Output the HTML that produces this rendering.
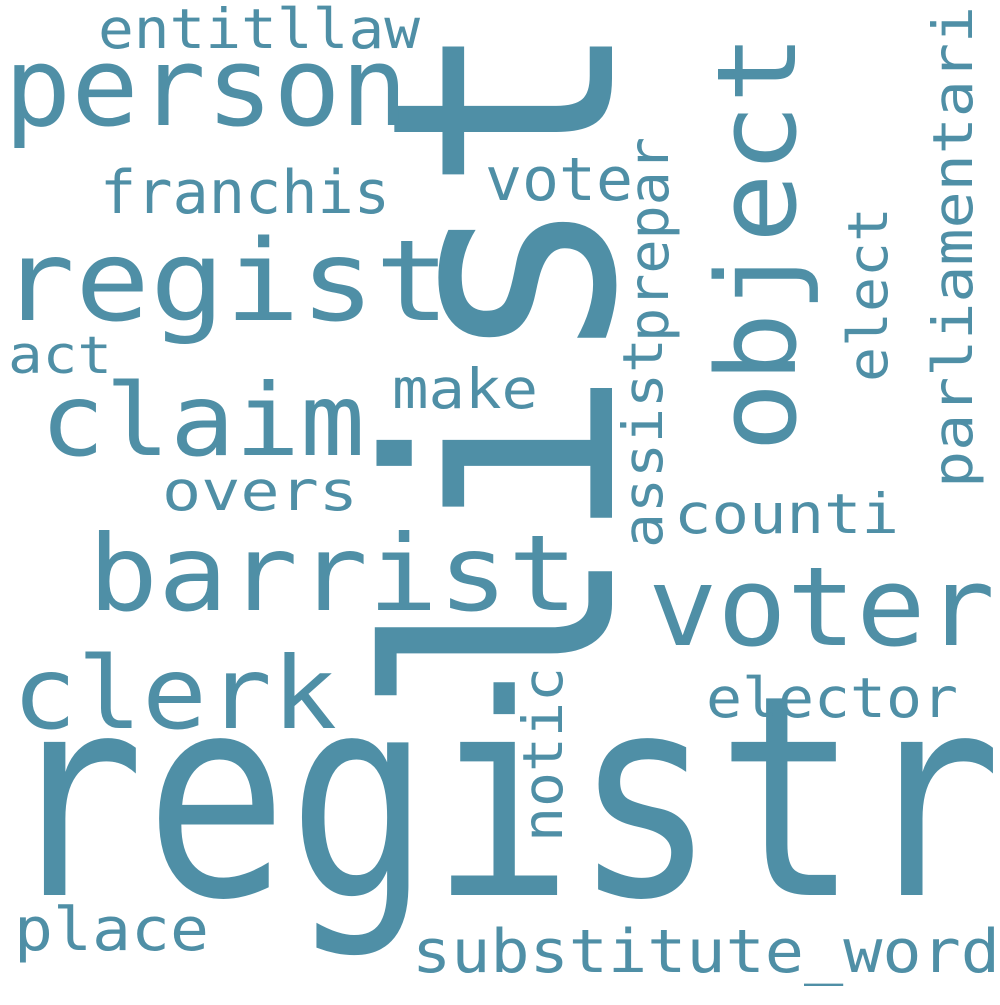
<!DOCTYPE html>
<html><head><meta charset="utf-8"><style>
html,body{margin:0;padding:0;background:#fff}
svg text{font-family:"DejaVu Sans Mono","Liberation Mono",monospace;fill:#4f8fa6}
</style></head><body>
<svg width="1000" height="1000" viewBox="0 0 1000 1000" xmlns="http://www.w3.org/2000/svg">
<rect width="1000" height="1000" fill="#fff"/>
<text x="2" y="895" font-size="280" textLength="1000" lengthAdjust="spacingAndGlyphs">registr</text>
<text transform="translate(612,718) rotate(-90)" font-size="310" textLength="700" lengthAdjust="spacingAndGlyphs">list</text>
<text x="4" y="125" font-size="110" textLength="404" lengthAdjust="spacingAndGlyphs">person</text>
<text x="0" y="320" font-size="112" textLength="450" lengthAdjust="spacingAndGlyphs">regist</text>
<text x="40" y="455" font-size="100" textLength="325" lengthAdjust="spacingAndGlyphs">claim</text>
<text x="88" y="610" font-size="105" textLength="490" lengthAdjust="spacingAndGlyphs">barrist</text>
<text x="12" y="728" font-size="100" textLength="325" lengthAdjust="spacingAndGlyphs">clerk</text>
<text x="648" y="645" font-size="110" textLength="347" lengthAdjust="spacingAndGlyphs">voter</text>
<text transform="translate(795,452) rotate(-90)" font-size="110" textLength="418" lengthAdjust="spacingAndGlyphs">object</text>
<text x="98" y="48" font-size="55" textLength="322" lengthAdjust="spacingAndGlyphs">entitllaw</text>
<text x="100" y="213" font-size="60" textLength="290" lengthAdjust="spacingAndGlyphs">franchis</text>
<text x="485" y="200" font-size="60" textLength="148" lengthAdjust="spacingAndGlyphs">vote</text>
<text x="8" y="373" font-size="52" textLength="104" lengthAdjust="spacingAndGlyphs">act</text>
<text x="392" y="408" font-size="55" textLength="146" lengthAdjust="spacingAndGlyphs">make</text>
<text x="162" y="510" font-size="55" textLength="196" lengthAdjust="spacingAndGlyphs">overs</text>
<text x="674" y="533" font-size="55" textLength="225" lengthAdjust="spacingAndGlyphs">counti</text>
<text x="706" y="717" font-size="55" textLength="252" lengthAdjust="spacingAndGlyphs">elector</text>
<text x="14" y="950" font-size="60" textLength="195" lengthAdjust="spacingAndGlyphs">place</text>
<text x="412" y="972" font-size="60" textLength="588" lengthAdjust="spacingAndGlyphs">substitute_word</text>
<text transform="translate(668,342) rotate(-90)" font-size="55" textLength="205" lengthAdjust="spacingAndGlyphs">prepar</text>
<text transform="translate(662,548) rotate(-90)" font-size="55" textLength="210" lengthAdjust="spacingAndGlyphs">assist</text>
<text transform="translate(562,842) rotate(-90)" font-size="55" textLength="175" lengthAdjust="spacingAndGlyphs">notic</text>
<text transform="translate(887,382) rotate(-90)" font-size="55" textLength="175" lengthAdjust="spacingAndGlyphs">elect</text>
<text transform="translate(972,488) rotate(-90)" font-size="55" textLength="482" lengthAdjust="spacingAndGlyphs">parliamentari</text>
</svg>
</body></html>
